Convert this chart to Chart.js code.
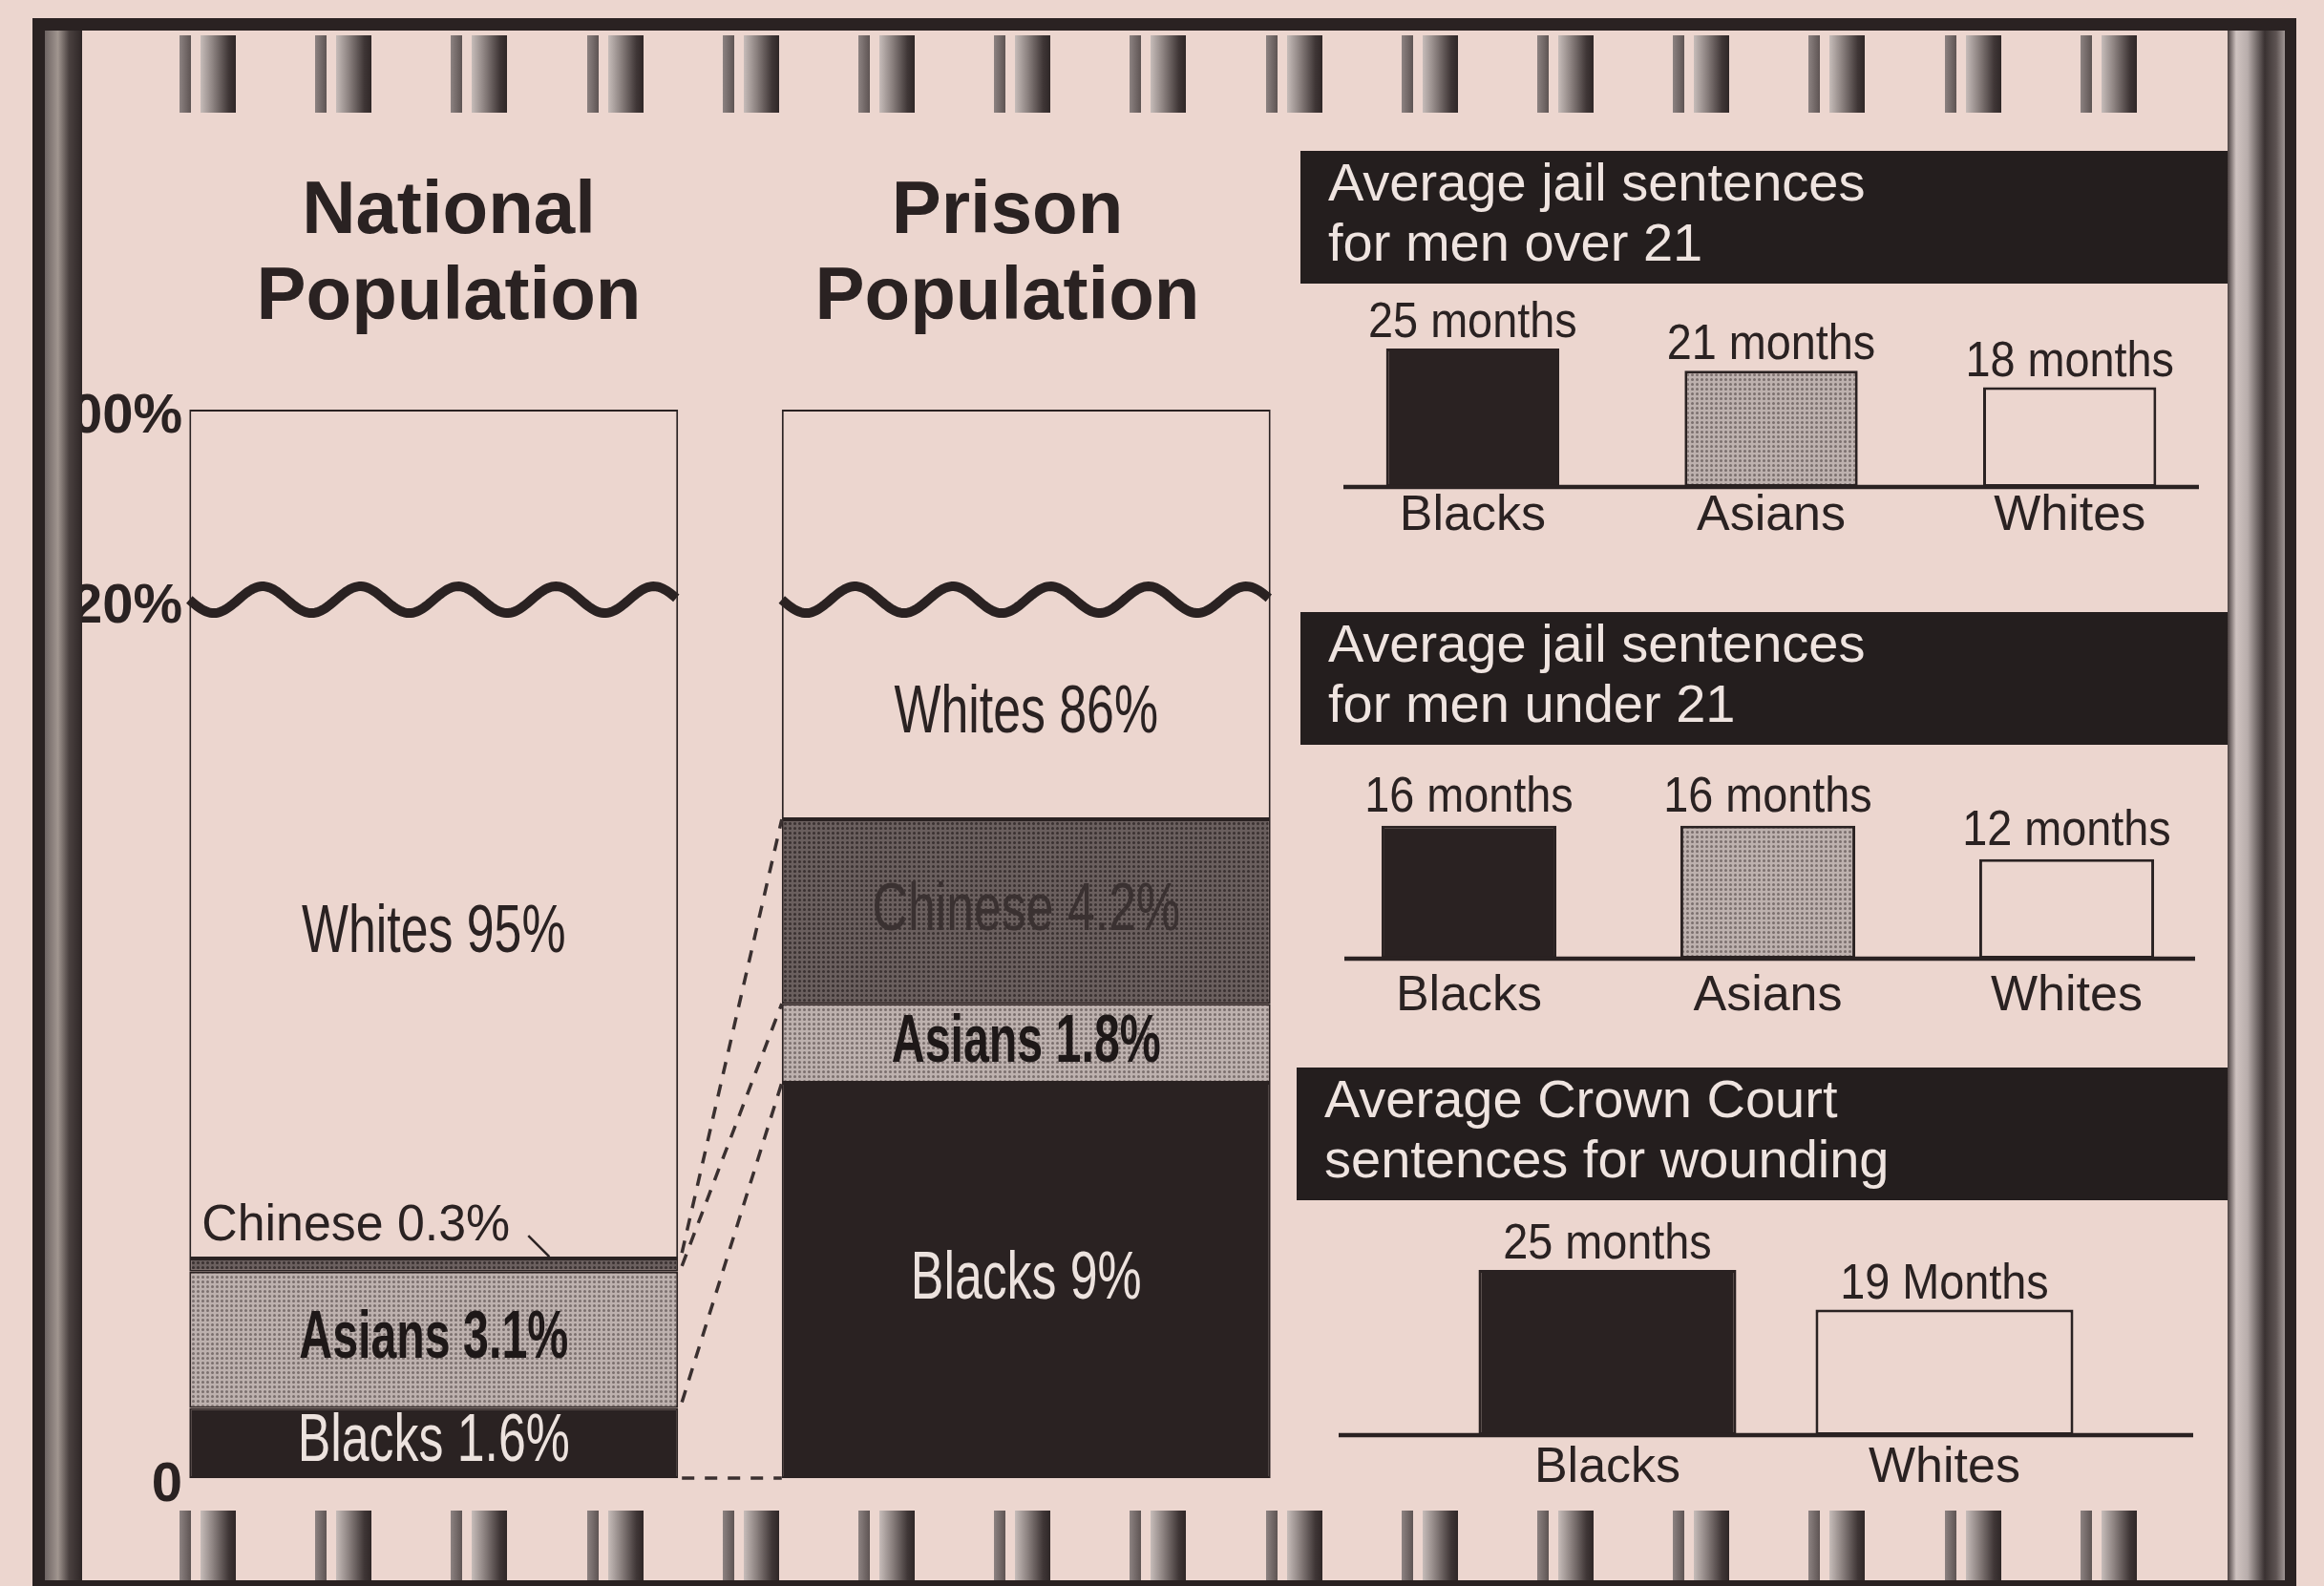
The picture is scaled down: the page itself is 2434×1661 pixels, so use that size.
<!DOCTYPE html>
<html>
<head>
<meta charset="utf-8">
<script src="https://cdn.jsdelivr.net/npm/chart.js@4.4.1/dist/chart.umd.min.js"></script>
<style>
html, body { margin: 0; padding: 0; background: #ecd6cf; }
body { width: 2434px; height: 1661px; position: relative; overflow: hidden;
       font-family: "Liberation Sans", Arial, sans-serif; color: #2a2222; }
canvas { position: absolute; z-index: 1; }
.title { position: absolute; width: 600px; text-align: center; font-weight: bold;
         font-size: 78px; line-height: 90px; z-index: 2; }
.head { position: absolute; background: #241e1e; color: #efe4e0; font-size: 56px;
        line-height: 63px; box-sizing: border-box; padding: 1px 0 0 29px; height: 139px; z-index: 2; }
.deco { position: absolute; z-index: 3; }
</style>
</head>
<body>

<canvas id="mainChart" width="1400" height="1661" style="left:0;top:0"></canvas>
<canvas id="overChart" width="1000" height="290" style="left:1340px;top:300px"></canvas>
<canvas id="underChart" width="1000" height="300" style="left:1340px;top:784px"></canvas>
<canvas id="woundChart" width="1000" height="320" style="left:1340px;top:1263px"></canvas>

<div class="title" style="left:170px;top:172px">National<br>Population</div>
<div class="title" style="left:755px;top:172px">Prison<br>Population</div>

<div class="head" style="left:1362px;top:158px;width:971px">Average jail sentences<br>for men over 21</div>
<div class="head" style="left:1362px;top:641px;width:971px">Average jail sentences<br>for men under 21</div>
<div class="head" style="left:1358px;top:1118px;width:975px">Average Crown Court<br>sentences for wounding</div>

<div id="frame"></div>

<script>
// population shares, bottom to top
const groups = ["National", "Prison"];
const ethnicGroups = ["Blacks", "Asians", "Chinese", "Whites"];
const nationalShare = [1.6, 3.1, 0.3, 95];
const prisonShare = [9, 1.8, 4.2, 86];

const yTickValues = [0, 20, 100];
const yTickLabels = ["0", "20%", "100%"];

// sentences
const overCats = ["Blacks", "Asians", "Whites"];
const overMonths = [25, 21, 18];
const overUnits = ["months", "months", "months"];

const underCats = ["Blacks", "Asians", "Whites"];
const underMonths = [16, 16, 12];
const underUnits = ["months", "months", "months"];

const woundCats = ["Blacks", "Whites"];
const woundMonths = [25, 19];
const woundUnits = ["months", "Months"];

const INK = "#2a2222";
const BG = "#ecd6cf";
const SANS = "'Liberation Sans', Arial, sans-serif";

// axis above 20% is squashed (broken axis)
const BREAK = 20;
const SQUASH = 0.0541;
const brk = v => v <= BREAK ? v : BREAK + (v - BREAK) * SQUASH;

function halftone(base, dot, size) {
    const c = document.createElement("canvas");
    c.width = c.height = size;
    const g = c.getContext("2d");
    g.fillStyle = base;
    g.fillRect(0, 0, size, size);
    g.fillStyle = dot;
    g.beginPath();
    g.arc(size / 2, size / 2, size * 0.3, 0, Math.PI * 2);
    g.fill();
    return g.createPattern(c, "repeat");
}

const asianFill = halftone("#bdb1ae", "#7a6f6d", 5);
const chineseFill = halftone("#6a5f5e", "#3a3131", 5);
const segFills = [INK, asianFill, chineseFill, BG];
const segText = ["#ece2de", "#1e1818", "#3a3131", INK];
const segWeight = ["", "bold ", "", ""];
const segSqueeze = [0.74, 0.69, 0.74, 0.74];

// y labels are right-aligned just left of the bars
const yTickFont = { family: SANS, size: 58, weight: "bold" };
const probe = document.createElement("canvas").getContext("2d");
probe.font = "bold 58px " + SANS;
const widestTick = Math.max(...yTickLabels.map(t => probe.measureText(t).width));

function drawText(ctx, text, x, y, font, color, squeeze, align, baseline) {
    ctx.save();
    ctx.font = font;
    ctx.fillStyle = color;
    ctx.textAlign = align || "center";
    ctx.textBaseline = baseline || "middle";
    ctx.translate(x, y);
    ctx.scale(squeeze, 1);
    ctx.fillText(text, 0, 0);
    ctx.restore();
}

function ranges(shares) {
    let cum = 0;
    return shares.map(v => {
        const r = [cum, Math.min(cum + v, 100)];
        cum += v;
        return r;
    });
}

const natRanges = ranges(nationalShare);
const priRanges = ranges(prisonShare);
const shares = [nationalShare, prisonShare];

const populationPlugin = {
    id: "population",
    afterDatasetsDraw(chart) {
        const ctx = chart.ctx;
        const y = chart.scales.y;
        const y20 = y.getPixelForValue(BREAK);

        // dashed connectors between segment boundaries
        ctx.save();
        ctx.strokeStyle = "#3a3030";
        ctx.lineWidth = 3.5;
        ctx.setLineDash([13, 11]);
        ethnicGroups.forEach((g, i) => {
            const meta = chart.getDatasetMeta(i);
            const a = meta.data[0].getProps(["x", "width"], true);
            const b = meta.data[1].getProps(["x", "width"], true);
            ctx.beginPath();
            ctx.moveTo(a.x + a.width / 2 + 4, y.getPixelForValue(brk(natRanges[i][0])) - (i ? 6 : 0));
            ctx.lineTo(b.x - b.width / 2, y.getPixelForValue(brk(priRanges[i][0])));
            ctx.stroke();
        });
        ctx.restore();

        // wavy break line
        const whites = chart.getDatasetMeta(3);
        ctx.save();
        ctx.strokeStyle = INK;
        ctx.lineWidth = 10;
        whites.data.forEach(bar => {
            const { x, width } = bar.getProps(["x", "width"], true);
            const left = x - width / 2;
            const period = width / 5;
            ctx.beginPath();
            for (let px = 0; px <= width; px += 2) {
                const yy = y20 + 14 * Math.sin(2 * Math.PI * px / period);
                if (px === 0) ctx.moveTo(left, yy); else ctx.lineTo(left + px, yy);
            }
            ctx.stroke();
        });
        ctx.restore();

        // segment labels
        ethnicGroups.forEach((g, i) => {
            chart.getDatasetMeta(i).data.forEach((bar, j) => {
                const p = bar.getProps(["x", "y", "base", "width"], true);
                const top = Math.max(Math.min(p.y, p.base), y20 + 10);
                const bottom = Math.max(p.y, p.base);
                const text = g + " " + shares[j][i] + "%";
                if (bottom - top < 30) {
                    const left = p.x - p.width / 2;
                    drawText(ctx, text, left + 13, top - 34, "54px " + SANS, INK, 0.96, "left");
                    ctx.save();
                    ctx.strokeStyle = INK;
                    ctx.lineWidth = 2.5;
                    ctx.beginPath();
                    ctx.moveTo(left + 355, top - 24);
                    ctx.lineTo(left + 377, top - 2);
                    ctx.stroke();
                    ctx.restore();
                } else {
                    drawText(ctx, text, p.x, (top + bottom) / 2, segWeight[i] + "70px " + SANS,
                        segText[i], segSqueeze[i]);
                }
            });
        });
    }
};

new Chart(document.getElementById("mainChart"), {
    type: "bar",
    data: {
        labels: groups,
        datasets: ethnicGroups.map((g, i) => ({
            label: g,
            data: [natRanges[i], priRanges[i]].map(r => [brk(r[0]), brk(r[1])]),
            backgroundColor: segFills[i],
            borderColor: INK,
            borderWidth: 2,
            borderSkipped: false,
            barPercentage: 0.825,
            categoryPercentage: 1
        }))
    },
    options: {
        responsive: false,
        animation: false,
        devicePixelRatio: 1,
        layout: { padding: { left: 0, right: 15, top: 429, bottom: 113 } },
        scales: {
            x: { display: false, stacked: true },
            y: {
                min: 0,
                max: brk(100),
                afterBuildTicks: s => { s.ticks = yTickValues.map(v => ({ value: brk(v) })); },
                afterFit: s => { s.width = 144; },
                grid: { display: false, drawTicks: false },
                border: { display: false },
                ticks: {
                    mirror: true,
                    crossAlign: "far",
                    padding: 191 - 144 - widestTick,
                    labelOffset: 8,
                    autoSkip: false,
                    callback: (v, i) => yTickLabels[i],
                    font: yTickFont,
                    color: INK
                }
            }
        },
        plugins: { legend: { display: false }, tooltip: { enabled: false } }
    },
    plugins: [populationPlugin]
});

const catFill = { Blacks: INK, Asians: asianFill, Whites: BG };

function sentenceChart(id, cats, months, units, lay) {
    new Chart(document.getElementById(id), {
        type: "bar",
        data: {
            labels: cats,
            datasets: [{
                data: months,
                backgroundColor: cats.map(c => catFill[c]),
                borderColor: INK,
                borderWidth: 3,
                borderSkipped: false,
                barPercentage: lay.bar,
                categoryPercentage: 1
            }]
        },
        options: {
            responsive: false,
            animation: false,
            devicePixelRatio: 1,
            layout: { padding: { left: lay.padL, right: lay.padR, top: 0, bottom: 0 } },
            scales: {
                x: {
                    afterFit: s => { s.height = 80; },
                    grid: { display: false, drawTicks: false },
                    border: { display: false },
                    ticks: { padding: lay.tickPad, font: { family: SANS, size: 52 }, color: INK }
                },
                y: { display: false, min: 0, max: lay.yMax }
            },
            plugins: { legend: { display: false }, tooltip: { enabled: false } }
        },
        plugins: [{
            id: "sentenceMarks",
            afterDatasetsDraw(chart) {
                const ctx = chart.ctx;
                const area = chart.chartArea;
                ctx.save();
                ctx.strokeStyle = INK;
                ctx.lineWidth = 4.5;
                ctx.beginPath();
                ctx.moveTo(area.left + lay.lineL, area.bottom);
                ctx.lineTo(area.right - lay.lineR, area.bottom);
                ctx.stroke();
                ctx.restore();
                chart.getDatasetMeta(0).data.forEach((bar, i) => {
                    drawText(ctx, months[i] + " " + units[i], bar.x, bar.y - lay.gap,
                        "52px " + SANS, INK, 0.9, "center", "alphabetic");
                });
            }
        }]
    });
}

sentenceChart("overChart", overCats, overMonths, overUnits,
    { padL: 46, padR: 16, bar: 0.58, yMax: 36.2, lineL: 21, lineR: 21, tickPad: -1, gap: 12 });
sentenceChart("underChart", underCats, underMonths, underUnits,
    { padL: 42, padR: 19, bar: 0.585, yMax: 25.3, lineL: 26, lineR: 22, tickPad: 8, gap: 15 });
sentenceChart("woundChart", woundCats, woundMonths, woundUnits,
    { padL: 167, padR: 127, bar: 0.765, yMax: 34.7, lineL: -105, lineR: -84, tickPad: 3, gap: 12 });

// frame, pillars and prison bars
const frame = document.getElementById("frame");
function box(left, top, width, height, css) {
    const d = document.createElement("div");
    d.className = "deco";
    d.style.cssText += `left:${left}px;top:${top}px;width:${width}px;height:${height}px;` + css;
    frame.appendChild(d);
}
box(34, 19, 2371, 1649, `box-sizing:border-box;border:13px solid ${INK};`);
box(47, 32, 39, 1623, "background:linear-gradient(to right,#6e6463 0%,#a0958f 35%,#4a4140 65%,#2e2626 100%);");
box(2333, 32, 60, 1623, "background:linear-gradient(to right,#4a4040 0%,#cfc3c0 15%,#b8adab 35%,#3a3232 65%,#5e5453 85%,#a09694 100%);");
for (let i = 0; i < 15; i++) {
    const x = 188 + i * 142.2;
    for (const [y, h] of [[37, 81], [1582, 73]]) {
        box(x, y, 12, h, "background:linear-gradient(to right,#8c8281,#5e5453);");
        box(x + 22, y, 37, h, "background:linear-gradient(to right,#c6bcb9 0%,#8d8381 35%,#3f3636 80%,#2f2727 100%);");
    }
}
</script>
</body>
</html>
